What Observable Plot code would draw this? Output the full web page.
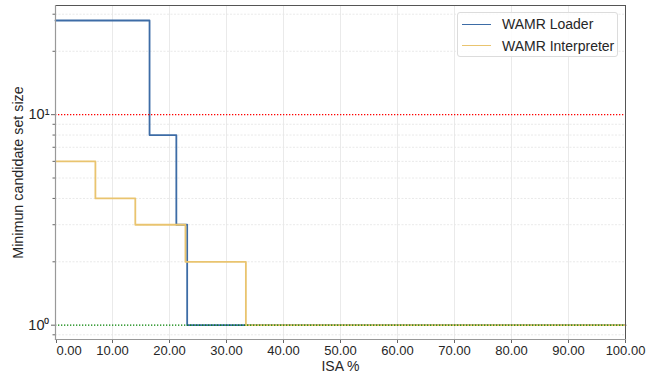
<!DOCTYPE html>
<html>
<head>
<meta charset="utf-8">
<script src="https://cdn.jsdelivr.net/npm/d3@7"></script>
<script src="https://cdn.jsdelivr.net/npm/@observablehq/plot@0.6"></script>
<style>
  html, body { margin: 0; padding: 0; background: #fff; }
  #wrap { position: relative; width: 649px; height: 374px; font-family: "Liberation Sans", Arial, sans-serif; }
  #legend { position: absolute; left: 457px; top: 12px; width: 161px; height: 45px; border: 1px solid #dcdcdc; border-radius: 3px; background: rgba(255,255,255,0.85); box-sizing: border-box; }
  .item { position: absolute; left: 4px; height: 20px; display: flex; align-items: center; font-size: 14px; color: #262626; white-space: nowrap; }
  .sw { display: inline-block; width: 29px; height: 0; border-top: 1.6px solid; margin-right: 11px; }
</style>
</head>
<body>
<div id="wrap"></div>
<script>
// Data
const seriesNames = ["WAMR Loader", "WAMR Interpreter"];
const seriesColors = ["#3d6ca6", "#e9c46f"];
const loaderX = [0, 16.5, 21.2, 23.1, 100];
const loaderY = [28, 8, 3, 1, 1];
const interpX = [0, 7.0, 14.0, 22.8, 33.4, 100];
const interpY = [6, 4, 3, 2, 1, 1];
const xTicks = [0, 10, 20, 30, 40, 50, 60, 70, 80, 90, 100];
const yMajor = [1, 10];
const yMajorLabels = ["10⁰", "10¹"];
const yMinor = [0.9, 2, 3, 4, 5, 6, 7, 8, 9, 20, 30];
const refRed = [10];
const refGreen = [1];
const xDomain = [0, 100];
const yDomain = [0.855, 33];

const loader = loaderX.map((x, i) => ({x, y: loaderY[i]}));
const interp = interpX.map((x, i) => ({x, y: interpY[i]}));

const fmt = d => d.toFixed(2);

const chart = Plot.plot({
  width: 649,
  height: 374,
  marginLeft: 55,
  marginRight: 24,
  marginTop: 5,
  marginBottom: 35,
  style: {fontFamily: "'Liberation Sans', Arial, sans-serif", fontSize: "13px", color: "#262626", background: "#fff"},
  x: {domain: xDomain, label: null},
  y: {type: "log", domain: yDomain, label: null},
  marks: [
    Plot.gridX(xTicks, {stroke: "#e8e8e8", strokeOpacity: 1, strokeWidth: 0.9}),
    Plot.gridY(yMinor, {stroke: "#e6e6e6", strokeOpacity: 1, strokeWidth: 0.9, strokeDasharray: "2,1.5"}),
    Plot.line(loader, {x: "x", y: "y", curve: "step-after", stroke: seriesColors[0], strokeWidth: 1.8}),
    Plot.line(interp, {x: "x", y: "y", curve: "step-after", stroke: seriesColors[1], strokeWidth: 1.8}),
    Plot.ruleY(refRed, {stroke: "#ff0000", strokeWidth: 1.2, strokeDasharray: "1.3,1.7"}),
    Plot.ruleY(refGreen, {stroke: "#008000", strokeWidth: 1.2, strokeDasharray: "1.3,1.7"}),
    Plot.axisX(xTicks.slice(1), {tickSize: 4, tickPadding: 2, tickFormat: fmt, stroke: "#666", fontSize: 13, label: null}),
    Plot.axisX(xTicks.slice(0, 1), {tickSize: 4, tickPadding: 2, tickFormat: fmt, stroke: "#666", fontSize: 13, textAnchor: "start", dx: 1, label: null}),
    Plot.axisY(yMajor, {tickSize: 4, tickPadding: 2, tickFormat: (d) => yMajorLabels[yMajor.indexOf(d)], stroke: "#666", fontSize: 14.5, label: null}),
    Plot.axisY(yMinor, {tickSize: 2.5, tickFormat: () => "", stroke: "#666", label: null}),
    Plot.frame({stroke: "#555", strokeWidth: 1}),
    Plot.frame({anchor: "left", stroke: "#999", strokeWidth: 1.2}),
    Plot.frame({anchor: "bottom", stroke: "#999", strokeWidth: 1.2}),
    Plot.text(["ISA %"], {frameAnchor: "bottom", dy: 27, lineAnchor: "middle", fontSize: 14, fill: "#262626"}),
    Plot.text(["Minimun candidate set size"], {frameAnchor: "left", textAnchor: "middle", dx: -37, rotate: -90, fontSize: 14.3, fill: "#262626"})
  ]
});

const wrap = document.getElementById("wrap");
wrap.appendChild(chart);

const legend = document.createElement("div");
legend.id = "legend";
seriesNames.forEach((name, i) => {
  const it = document.createElement("div");
  it.className = "item";
  it.style.top = (1 + i * 21.6) + "px";
  const sw = document.createElement("span");
  sw.className = "sw";
  sw.style.borderTopColor = seriesColors[i];
  it.appendChild(sw);
  it.appendChild(document.createTextNode(name));
  legend.appendChild(it);
});
wrap.appendChild(legend);
</script>
</body>
</html>
